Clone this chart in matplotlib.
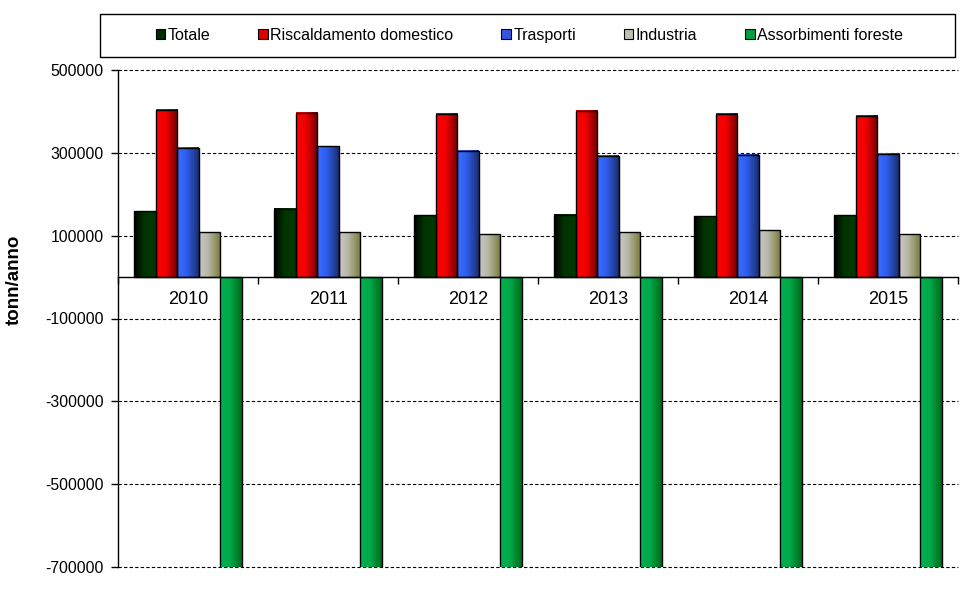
import matplotlib
matplotlib.use("Agg")
import matplotlib.pyplot as plt
import numpy as np
from matplotlib.colors import LinearSegmentedColormap
from matplotlib.patches import Patch, Rectangle

plt.rcParams['font.family'] = ['Liberation Sans', 'DejaVu Sans']

years = ["2010", "2011", "2012", "2013", "2014", "2015"]
series_names = ["Totale", "Riscaldamento domestico", "Trasporti", "Industria", "Assorbimenti foreste"]
totale = [159000, 165500, 148700, 151000, 146300, 149400]
riscaldamento = [404000, 397000, 394500, 401700, 394500, 390000]
trasporti = [312500, 315700, 305300, 293000, 295700, 298000]
industria = [107700, 107700, 103000, 107700, 112500, 103000]
assorbimenti = [-900000, -900000, -900000, -900000, -900000, -900000]
yticks = [500000, 300000, 100000, -100000, -300000, -500000, -700000]

series = [totale, riscaldamento, trasporti, industria, assorbimenti]
gradients = [
    [(0.0, "#000000"), (0.45, "#003300"), (1.0, "#003a00")],
    [(0.0, "#ff0000"), (0.45, "#f00000"), (1.0, "#6e0000")],
    [(0.0, "#3a6cff"), (0.4, "#3060f0"), (1.0, "#1a2f70")],
    [(0.0, "#c8c8c8"), (0.4, "#b8b8a8"), (1.0, "#7a7a38")],
    [(0.0, "#00b050"), (0.45, "#00a848"), (1.0, "#006a1c")],
]
legend_colors = ["#002a00", "#e00000", "#3358e0", "#c0c0b0", "#00a040"]

fig = plt.figure(figsize=(9.69, 5.91), dpi=100)
ax = fig.add_axes([118/969, 1-567/591, 840/969, 497/591])

x = np.arange(len(years))
w = 0.154
ymin, ymax = -700000, 500000

for si, vals in enumerate(series):
    offs = (si - 2) * w
    bars = ax.bar(x + offs, vals, w, facecolor='none', edgecolor='black',
                  linewidth=1.0, zorder=4)
    cmap = LinearSegmentedColormap.from_list("g%d" % si, gradients[si])
    grad = np.linspace(0, 1, 64).reshape(1, -1)
    for b in bars:
        x0 = b.get_x(); x1 = x0 + b.get_width()
        y0 = b.get_y(); y1 = y0 + b.get_height()
        lo = max(min(y0, y1), ymin); hi = min(max(y0, y1), ymax)
        ax.imshow(grad, cmap=cmap, extent=(x0, x1, lo, hi),
                  aspect='auto', zorder=3, interpolation='bilinear')

ax.set_xlim(-0.5, len(years) - 0.5)
ax.set_ylim(ymin, ymax)

for yt in yticks:
    ax.axhline(yt, color='black', linewidth=0.8, linestyle=(0, (3, 2)), zorder=1,
               clip_on=False)

ax.set_yticks(yticks)
ax.set_yticklabels([str(v) for v in yticks], fontsize=11.3)
ax.tick_params(axis='y', direction='out', length=5, width=1, pad=5.5)

ax.spines['top'].set_visible(False)
ax.spines['right'].set_visible(False)
ax.spines['bottom'].set_position(('data', 0))
ax.spines['bottom'].set_zorder(5)
ax.spines['left'].set_linewidth(1.0)
ax.spines['bottom'].set_linewidth(1.0)
ax.set_xticks(np.arange(-0.5, len(years), 1.0))
ax.set_xticklabels([])
ax.tick_params(axis='x', direction='out', length=5, width=1)

for i, yr in enumerate(years):
    ax.text(i, -55000, yr, ha='center', va='center', fontsize=13, zorder=6)

fig.text(0.0145, 1-280/591, "tonn/anno", rotation=90, ha='center', va='center',
         fontsize=13.5, fontweight='bold')

# legend box
fig.patches.append(Rectangle((100/969, 1-57/591), 855/969, 43/591, transform=fig.transFigure,
                             facecolor='white', edgecolor='black', linewidth=1.0))
handles = [Patch(facecolor=c, edgecolor='black', linewidth=0.8) for c in legend_colors]
fig.legend(handles, series_names, loc='center', bbox_to_anchor=(529.5/969, 1-35.5/591),
           ncol=5, frameon=False, fontsize=11.5, handlelength=0.6, handleheight=0.6,
           handletextpad=0.15, columnspacing=3.0, borderpad=0)

fig.savefig("out.png", dpi=100)
